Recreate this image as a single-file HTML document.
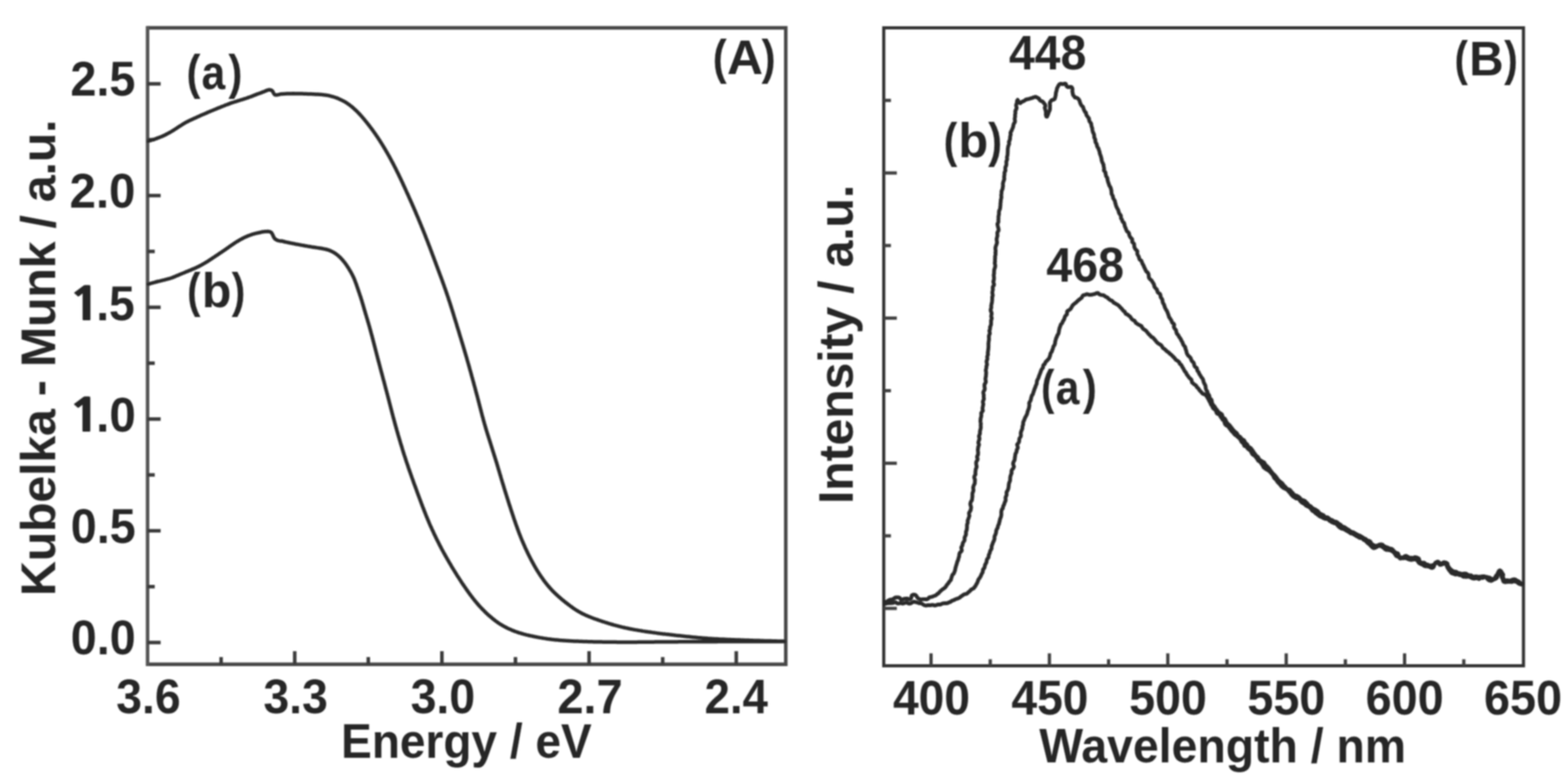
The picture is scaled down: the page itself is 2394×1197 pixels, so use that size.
<!DOCTYPE html>
<html><head><meta charset="utf-8"><title>Kubelka-Munk and PL spectra</title>
<style>
html,body{margin:0;padding:0;background:#fff;}
body{width:2394px;height:1197px;overflow:hidden;}
svg{display:block;}
</style></head>
<body>
<svg width="2394" height="1197" viewBox="0 0 2394 1197">
<defs><filter id="soft" x="0" y="0" width="2394" height="1197" filterUnits="userSpaceOnUse"><feGaussianBlur stdDeviation="1.1"/></filter></defs>
<rect x="0" y="0" width="2394" height="1197" fill="#ffffff"/>
<g filter="url(#soft)">
<g fill="none" stroke-linejoin="miter">
<path d="M225.3,42.5 H1199.7 V1014.2 H225.3" stroke="#474747" stroke-width="5.4"/><path d="M225.3,1016.9000000000001 V39.8" stroke="#555555" stroke-width="5.4"/><rect x="1349.3" y="42.5" width="976.7" height="974.0" stroke="#333333" stroke-width="4.8"/>
</g>
<g stroke-linecap="butt">
<line x1="337.6" y1="1014.2" x2="337.6" y2="1003.2" stroke-width="5.4" stroke="#3a3a3a"/>
<line x1="450.0" y1="1014.2" x2="450.0" y2="994.2" stroke-width="5.4" stroke="#3a3a3a"/>
<line x1="562.3" y1="1014.2" x2="562.3" y2="1003.2" stroke-width="5.4" stroke="#3a3a3a"/>
<line x1="674.7" y1="1014.2" x2="674.7" y2="994.2" stroke-width="5.4" stroke="#3a3a3a"/>
<line x1="787.0" y1="1014.2" x2="787.0" y2="1003.2" stroke-width="5.4" stroke="#3a3a3a"/>
<line x1="899.4" y1="1014.2" x2="899.4" y2="994.2" stroke-width="5.4" stroke="#3a3a3a"/>
<line x1="1011.8" y1="1014.2" x2="1011.8" y2="1003.2" stroke-width="5.4" stroke="#3a3a3a"/>
<line x1="1124.1" y1="1014.2" x2="1124.1" y2="994.2" stroke-width="5.4" stroke="#3a3a3a"/>
<line x1="225.3" y1="981.0" x2="245.3" y2="981.0" stroke-width="5.4" stroke="#3a3a3a"/>
<line x1="225.3" y1="895.7" x2="236.3" y2="895.7" stroke-width="5.4" stroke="#3a3a3a"/>
<line x1="225.3" y1="810.4" x2="245.3" y2="810.4" stroke-width="5.4" stroke="#3a3a3a"/>
<line x1="225.3" y1="725.1" x2="236.3" y2="725.1" stroke-width="5.4" stroke="#3a3a3a"/>
<line x1="225.3" y1="639.8" x2="245.3" y2="639.8" stroke-width="5.4" stroke="#3a3a3a"/>
<line x1="225.3" y1="554.5" x2="236.3" y2="554.5" stroke-width="5.4" stroke="#3a3a3a"/>
<line x1="225.3" y1="469.2" x2="245.3" y2="469.2" stroke-width="5.4" stroke="#3a3a3a"/>
<line x1="225.3" y1="383.9" x2="236.3" y2="383.9" stroke-width="5.4" stroke="#3a3a3a"/>
<line x1="225.3" y1="298.6" x2="245.3" y2="298.6" stroke-width="5.4" stroke="#3a3a3a"/>
<line x1="225.3" y1="213.3" x2="236.3" y2="213.3" stroke-width="5.4" stroke="#3a3a3a"/>
<line x1="225.3" y1="128.0" x2="245.3" y2="128.0" stroke-width="5.4" stroke="#3a3a3a"/>
<line x1="1421.5" y1="1016.5" x2="1421.5" y2="997.5" stroke-width="5.0" stroke="#404040"/>
<line x1="1511.9" y1="1016.5" x2="1511.9" y2="1006.5" stroke-width="5.0" stroke="#404040"/>
<line x1="1602.2" y1="1016.5" x2="1602.2" y2="997.5" stroke-width="5.0" stroke="#404040"/>
<line x1="1692.6" y1="1016.5" x2="1692.6" y2="1006.5" stroke-width="5.0" stroke="#404040"/>
<line x1="1783.0" y1="1016.5" x2="1783.0" y2="997.5" stroke-width="5.0" stroke="#404040"/>
<line x1="1873.4" y1="1016.5" x2="1873.4" y2="1006.5" stroke-width="5.0" stroke="#404040"/>
<line x1="1963.8" y1="1016.5" x2="1963.8" y2="997.5" stroke-width="5.0" stroke="#404040"/>
<line x1="2054.1" y1="1016.5" x2="2054.1" y2="1006.5" stroke-width="5.0" stroke="#404040"/>
<line x1="2144.5" y1="1016.5" x2="2144.5" y2="997.5" stroke-width="5.0" stroke="#404040"/>
<line x1="2234.9" y1="1016.5" x2="2234.9" y2="1006.5" stroke-width="5.0" stroke="#404040"/>
<line x1="1349.3" y1="153.3" x2="1360.3" y2="153.3" stroke-width="5.0" stroke="#404040"/>
<line x1="1349.3" y1="264.1" x2="1369.3" y2="264.1" stroke-width="5.0" stroke="#404040"/>
<line x1="1349.3" y1="374.9" x2="1360.3" y2="374.9" stroke-width="5.0" stroke="#404040"/>
<line x1="1349.3" y1="485.7" x2="1369.3" y2="485.7" stroke-width="5.0" stroke="#404040"/>
<line x1="1349.3" y1="596.5" x2="1360.3" y2="596.5" stroke-width="5.0" stroke="#404040"/>
<line x1="1349.3" y1="707.3" x2="1369.3" y2="707.3" stroke-width="5.0" stroke="#404040"/>
<line x1="1349.3" y1="818.1" x2="1360.3" y2="818.1" stroke-width="5.0" stroke="#404040"/>
<line x1="1349.3" y1="928.9" x2="1369.3" y2="928.9" stroke-width="5.0" stroke="#404040"/>
</g>
<g fill="none" stroke="#2a2a2a" stroke-width="5.5" stroke-linejoin="round" stroke-linecap="round">
<path d="M226.5,215.5 L228.4,214.9 L230.3,214.3 L232.2,213.7 L234.1,213.1 L236.0,212.5 L237.9,211.8 L239.8,211.1 L241.7,210.4 L243.5,209.7 L245.4,209.0 L247.2,208.2 L249.0,207.4 L250.9,206.6 L252.7,205.7 L254.4,204.8 L256.2,203.9 L258.0,202.9 L259.7,202.0 L261.4,201.0 L263.2,199.9 L264.9,198.9 L266.5,197.8 L268.2,196.7 L269.9,195.6 L271.5,194.5 L273.2,193.4 L274.9,192.3 L276.6,191.3 L278.3,190.2 L280.0,189.2 L281.7,188.2 L283.4,187.2 L285.2,186.2 L287.0,185.3 L288.7,184.4 L290.5,183.5 L292.3,182.7 L294.2,181.9 L296.0,181.0 L297.8,180.2 L299.6,179.4 L301.4,178.6 L303.3,177.8 L305.1,176.9 L306.9,176.1 L308.8,175.3 L310.6,174.5 L312.4,173.7 L314.2,172.9 L316.1,172.1 L317.9,171.3 L319.8,170.5 L321.6,169.7 L323.4,169.0 L325.3,168.2 L327.1,167.5 L329.0,166.7 L330.8,165.9 L332.7,165.2 L334.6,164.4 L336.4,163.7 L338.3,162.9 L340.1,162.2 L342.0,161.5 L343.8,160.7 L345.7,160.0 L347.6,159.3 L349.4,158.6 L351.3,157.9 L353.2,157.2 L355.1,156.6 L357.0,156.0 L358.9,155.4 L360.8,154.8 L362.7,154.2 L364.6,153.6 L366.5,153.0 L368.4,152.4 L370.4,151.8 L372.3,151.2 L374.2,150.6 L376.0,150.0 L377.9,149.3 L379.8,148.6 L381.7,148.0 L383.6,147.3 L385.4,146.6 L387.3,145.8 L389.2,145.1 L391.0,144.4 L392.9,143.7 L394.8,143.0 L396.7,142.3 L398.5,141.7 L400.4,140.9 L402.3,140.2 L404.1,139.4 L406.0,138.6 L407.8,137.9 L409.7,137.3 L411.7,137.1 L413.7,137.5 L415.4,138.4 L416.6,140.0 L417.5,141.8 L418.4,143.5 L419.9,144.8 L421.8,145.1 L423.8,144.8 L425.7,144.3 L427.7,143.8 L429.7,143.5 L431.8,143.4 L433.7,143.3 L435.7,143.2 L437.6,143.1 L439.6,143.0 L441.6,142.9 L443.6,142.9 L445.6,142.9 L447.6,142.8 L449.6,142.9 L451.6,142.9 L453.6,142.9 L455.6,143.0 L457.6,143.0 L459.6,143.1 L461.6,143.1 L463.6,143.2 L465.6,143.2 L467.6,143.3 L469.6,143.4 L471.6,143.4 L473.6,143.5 L475.6,143.6 L477.6,143.7 L479.6,143.8 L481.6,143.9 L483.6,144.0 L485.6,144.1 L487.6,144.2 L489.6,144.3 L491.6,144.5 L493.5,144.7 L495.5,144.9 L497.5,145.2 L499.5,145.5 L501.4,145.9 L503.4,146.3 L505.3,146.8 L507.2,147.3 L509.1,147.9 L511.0,148.5 L512.9,149.1 L514.8,149.8 L516.6,150.6 L518.4,151.4 L520.2,152.2 L522.0,153.1 L523.8,154.0 L525.5,154.9 L527.3,155.9 L529.0,157.0 L530.6,158.1 L532.3,159.2 L533.9,160.4 L535.4,161.6 L537.0,162.8 L538.5,164.1 L540.0,165.4 L541.5,166.8 L543.0,168.1 L544.4,169.5 L545.8,170.9 L547.2,172.3 L548.6,173.8 L550.0,175.2 L551.3,176.7 L552.6,178.2 L553.9,179.7 L555.2,181.3 L556.5,182.8 L557.8,184.4 L559.0,185.9 L560.3,187.5 L561.5,189.0 L562.7,190.6 L564.0,192.2 L565.2,193.8 L566.4,195.4 L567.6,197.0 L568.8,198.6 L569.9,200.2 L571.1,201.8 L572.3,203.5 L573.4,205.1 L574.5,206.8 L575.7,208.4 L576.8,210.1 L577.9,211.7 L579.0,213.4 L580.1,215.1 L581.1,216.8 L582.2,218.5 L583.3,220.2 L584.3,221.9 L585.3,223.6 L586.4,225.3 L587.4,227.0 L588.4,228.7 L589.4,230.5 L590.4,232.2 L591.4,233.9 L592.4,235.7 L593.4,237.4 L594.4,239.1 L595.3,240.9 L596.3,242.7 L597.3,244.4 L598.2,246.2 L599.1,247.9 L600.1,249.7 L601.0,251.5 L601.9,253.3 L602.8,255.0 L603.7,256.8 L604.6,258.6 L605.5,260.4 L606.4,262.2 L607.3,264.0 L608.2,265.8 L609.0,267.6 L609.9,269.4 L610.8,271.2 L611.6,273.0 L612.5,274.8 L613.3,276.6 L614.2,278.4 L615.0,280.2 L615.8,282.1 L616.7,283.9 L617.5,285.7 L618.3,287.5 L619.2,289.3 L620.0,291.2 L620.8,293.0 L621.6,294.8 L622.5,296.6 L623.3,298.4 L624.1,300.3 L624.9,302.1 L625.7,303.9 L626.6,305.8 L627.4,307.6 L628.2,309.4 L629.0,311.2 L629.8,313.1 L630.6,314.9 L631.4,316.7 L632.2,318.6 L633.0,320.4 L633.8,322.2 L634.6,324.1 L635.3,325.9 L636.1,327.8 L636.9,329.6 L637.7,331.4 L638.5,333.3 L639.2,335.1 L640.0,337.0 L640.8,338.8 L641.5,340.7 L642.3,342.5 L643.1,344.4 L643.8,346.2 L644.6,348.1 L645.3,349.9 L646.1,351.8 L646.8,353.6 L647.6,355.5 L648.3,357.3 L649.1,359.2 L649.8,361.1 L650.5,362.9 L651.2,364.8 L652.0,366.7 L652.7,368.5 L653.4,370.4 L654.1,372.3 L654.8,374.1 L655.6,376.0 L656.3,377.9 L657.0,379.7 L657.7,381.6 L658.4,383.5 L659.1,385.3 L659.8,387.2 L660.5,389.1 L661.2,391.0 L661.9,392.8 L662.6,394.7 L663.3,396.6 L664.0,398.4 L664.7,400.3 L665.4,402.2 L666.1,404.1 L666.8,405.9 L667.5,407.8 L668.2,409.7 L668.9,411.6 L669.6,413.4 L670.3,415.3 L671.0,417.2 L671.7,419.1 L672.4,420.9 L673.1,422.8 L673.8,424.7 L674.5,426.6 L675.2,428.4 L675.8,430.3 L676.5,432.2 L677.2,434.1 L677.9,436.0 L678.5,437.9 L679.2,439.7 L679.9,441.6 L680.5,443.5 L681.2,445.4 L681.8,447.3 L682.5,449.2 L683.1,451.1 L683.8,453.0 L684.4,454.9 L685.0,456.8 L685.6,458.7 L686.3,460.6 L686.9,462.5 L687.5,464.4 L688.1,466.3 L688.7,468.2 L689.3,470.1 L689.9,472.0 L690.5,473.9 L691.1,475.8 L691.7,477.7 L692.3,479.7 L692.9,481.6 L693.4,483.5 L694.0,485.4 L694.6,487.3 L695.2,489.2 L695.8,491.1 L696.4,493.0 L697.0,494.9 L697.5,496.9 L698.1,498.8 L698.7,500.7 L699.3,502.6 L699.9,504.5 L700.5,506.4 L701.1,508.3 L701.6,510.3 L702.2,512.2 L702.8,514.1 L703.4,516.0 L704.0,517.9 L704.5,519.8 L705.1,521.7 L705.7,523.6 L706.3,525.6 L706.9,527.5 L707.4,529.4 L708.0,531.3 L708.6,533.2 L709.1,535.1 L709.7,537.1 L710.3,539.0 L710.8,540.9 L711.4,542.8 L712.0,544.7 L712.5,546.7 L713.1,548.6 L713.6,550.5 L714.2,552.4 L714.7,554.3 L715.3,556.3 L715.8,558.2 L716.4,560.1 L716.9,562.0 L717.4,564.0 L718.0,565.9 L718.5,567.8 L719.1,569.8 L719.6,571.7 L720.1,573.6 L720.6,575.5 L721.2,577.5 L721.7,579.4 L722.2,581.3 L722.8,583.3 L723.3,585.2 L723.8,587.1 L724.3,589.0 L724.9,591.0 L725.4,592.9 L725.9,594.8 L726.4,596.8 L726.9,598.7 L727.4,600.6 L728.0,602.6 L728.5,604.5 L729.0,606.4 L729.5,608.4 L730.0,610.3 L730.5,612.2 L731.0,614.2 L731.5,616.1 L732.0,618.0 L732.5,620.0 L733.0,621.9 L733.5,623.9 L734.0,625.8 L734.5,627.7 L735.0,629.7 L735.5,631.6 L736.0,633.5 L736.5,635.5 L737.1,637.4 L737.6,639.3 L738.1,641.3 L738.6,643.2 L739.2,645.1 L739.7,647.0 L740.3,649.0 L740.8,650.9 L741.4,652.8 L741.9,654.7 L742.5,656.6 L743.1,658.5 L743.7,660.5 L744.3,662.4 L744.9,664.3 L745.5,666.2 L746.1,668.1 L746.7,670.0 L747.3,671.9 L747.9,673.8 L748.5,675.7 L749.1,677.6 L749.7,679.5 L750.3,681.4 L750.9,683.3 L751.5,685.2 L752.1,687.2 L752.7,689.1 L753.3,691.0 L753.9,692.9 L754.5,694.8 L755.1,696.7 L755.7,698.6 L756.3,700.5 L756.9,702.4 L757.5,704.3 L758.1,706.2 L758.7,708.2 L759.2,710.1 L759.8,712.0 L760.4,713.9 L760.9,715.8 L761.5,717.7 L762.1,719.7 L762.7,721.6 L763.2,723.5 L763.8,725.4 L764.4,727.3 L764.9,729.2 L765.5,731.2 L766.1,733.1 L766.6,735.0 L767.2,736.9 L767.8,738.8 L768.4,740.7 L769.0,742.7 L769.5,744.6 L770.1,746.5 L770.7,748.4 L771.3,750.3 L771.9,752.2 L772.5,754.1 L773.1,756.0 L773.7,757.9 L774.3,759.8 L774.9,761.8 L775.5,763.7 L776.1,765.6 L776.7,767.5 L777.3,769.4 L777.9,771.3 L778.6,773.2 L779.2,775.1 L779.8,777.0 L780.4,778.9 L781.0,780.8 L781.7,782.7 L782.3,784.6 L782.9,786.5 L783.6,788.4 L784.2,790.3 L784.8,792.2 L785.5,794.1 L786.1,796.0 L786.8,797.8 L787.4,799.7 L788.1,801.6 L788.8,803.5 L789.5,805.4 L790.1,807.3 L790.8,809.1 L791.5,811.0 L792.2,812.9 L792.9,814.8 L793.7,816.6 L794.4,818.5 L795.1,820.3 L795.9,822.2 L796.6,824.0 L797.4,825.9 L798.2,827.7 L799.0,829.6 L799.8,831.4 L800.6,833.2 L801.4,835.1 L802.2,836.9 L803.1,838.7 L803.9,840.5 L804.8,842.3 L805.6,844.1 L806.5,845.9 L807.4,847.7 L808.3,849.5 L809.2,851.3 L810.1,853.0 L811.0,854.8 L812.0,856.6 L812.9,858.4 L813.9,860.1 L814.8,861.9 L815.8,863.6 L816.8,865.3 L817.8,867.1 L818.8,868.8 L819.8,870.5 L820.9,872.2 L822.0,873.9 L823.0,875.6 L824.1,877.3 L825.2,878.9 L826.4,880.6 L827.5,882.2 L828.7,883.8 L829.8,885.5 L831.0,887.1 L832.2,888.7 L833.4,890.2 L834.7,891.8 L835.9,893.4 L837.2,894.9 L838.5,896.4 L839.8,897.9 L841.2,899.4 L842.5,900.9 L843.9,902.3 L845.3,903.7 L846.7,905.1 L848.2,906.5 L849.6,907.9 L851.1,909.2 L852.6,910.6 L854.1,911.9 L855.6,913.2 L857.1,914.5 L858.7,915.8 L860.2,917.0 L861.8,918.3 L863.3,919.5 L864.9,920.8 L866.5,922.0 L868.1,923.2 L869.6,924.4 L871.2,925.6 L872.9,926.8 L874.5,928.0 L876.1,929.1 L877.8,930.2 L879.5,931.3 L881.2,932.3 L882.9,933.4 L884.6,934.4 L886.4,935.3 L888.1,936.3 L889.9,937.2 L891.7,938.0 L893.5,938.9 L895.3,939.7 L897.2,940.5 L899.0,941.3 L900.9,942.0 L902.7,942.7 L904.6,943.5 L906.4,944.2 L908.3,944.9 L910.2,945.5 L912.1,946.2 L914.0,946.9 L915.9,947.5 L917.8,948.2 L919.7,948.8 L921.6,949.4 L923.5,950.0 L925.4,950.6 L927.3,951.2 L929.2,951.8 L931.1,952.4 L933.0,953.0 L934.9,953.5 L936.9,954.1 L938.8,954.6 L940.7,955.1 L942.7,955.6 L944.6,956.1 L946.5,956.6 L948.5,957.1 L950.4,957.6 L952.4,958.0 L954.3,958.5 L956.3,958.9 L958.2,959.3 L960.2,959.7 L962.1,960.1 L964.1,960.5 L966.1,960.9 L968.0,961.2 L970.0,961.6 L972.0,961.9 L973.9,962.3 L975.9,962.6 L977.9,962.9 L979.9,963.2 L981.8,963.6 L983.8,963.9 L985.8,964.2 L987.8,964.5 L989.7,964.8 L991.7,965.0 L993.7,965.3 L995.7,965.6 L997.7,965.9 L999.6,966.1 L1001.6,966.4 L1003.6,966.7 L1005.6,966.9 L1007.6,967.2 L1009.6,967.4 L1011.5,967.7 L1013.5,967.9 L1015.5,968.1 L1017.5,968.4 L1019.5,968.6 L1021.5,968.8 L1023.5,969.1 L1025.5,969.3 L1027.4,969.5 L1029.4,969.7 L1031.4,970.0 L1033.4,970.2 L1035.4,970.4 L1037.4,970.6 L1039.4,970.8 L1041.4,971.1 L1043.3,971.3 L1045.3,971.5 L1047.3,971.7 L1049.3,971.9 L1051.3,972.1 L1053.3,972.3 L1055.3,972.5 L1057.3,972.7 L1059.3,972.9 L1061.2,973.1 L1063.2,973.3 L1065.2,973.5 L1067.2,973.7 L1069.2,973.8 L1071.2,974.0 L1073.2,974.2 L1075.2,974.3 L1077.2,974.5 L1079.2,974.6 L1081.2,974.8 L1083.2,974.9 L1085.2,975.0 L1087.2,975.2 L1089.2,975.3 L1091.2,975.4 L1093.2,975.5 L1095.1,975.6 L1097.1,975.7 L1099.1,975.9 L1101.1,976.0 L1103.1,976.0 L1105.1,976.1 L1107.1,976.2 L1109.1,976.3 L1111.1,976.4 L1113.1,976.5 L1115.1,976.6 L1117.1,976.7 L1119.1,976.7 L1121.1,976.8 L1123.1,976.9 L1125.1,977.0 L1127.1,977.0 L1129.1,977.1 L1131.1,977.2 L1133.1,977.3 L1135.1,977.3 L1137.1,977.4 L1139.1,977.5 L1141.1,977.6 L1143.1,977.6 L1145.1,977.7 L1147.1,977.8 L1149.1,977.8 L1151.1,977.9 L1153.1,977.9 L1155.1,978.0 L1157.1,978.1 L1159.1,978.1 L1161.1,978.2 L1163.1,978.2 L1165.1,978.3 L1167.1,978.4 L1169.1,978.4 L1171.1,978.5 L1173.1,978.5 L1175.1,978.6 L1177.1,978.6 L1179.1,978.7 L1181.1,978.7 L1183.1,978.8 L1185.1,978.8 L1187.1,978.9 L1189.1,979.0 L1191.1,979.0 L1193.0,979.1 L1195.0,979.1 L1196.9,979.2 L1197.5,979.2"/><path d="M226.5,433.8 L228.4,433.3 L230.3,432.7 L232.3,432.2 L234.2,431.6 L236.1,431.1 L238.1,430.5 L240.0,430.0 L241.9,429.5 L243.9,429.1 L245.8,428.6 L247.7,428.1 L249.7,427.6 L251.6,427.2 L253.6,426.7 L255.5,426.2 L257.4,425.6 L259.3,425.1 L261.2,424.5 L263.1,423.8 L264.9,423.1 L266.8,422.4 L268.6,421.6 L270.4,420.8 L272.3,420.1 L274.1,419.3 L275.9,418.5 L277.8,417.7 L279.6,417.0 L281.5,416.2 L283.3,415.4 L285.2,414.7 L287.0,413.9 L288.9,413.2 L290.7,412.4 L292.6,411.6 L294.4,410.8 L296.3,410.1 L298.1,409.2 L299.9,408.4 L301.7,407.6 L303.5,406.7 L305.3,405.8 L307.1,404.9 L308.8,403.9 L310.5,402.9 L312.3,401.9 L314.0,400.9 L315.7,399.8 L317.4,398.8 L319.0,397.7 L320.7,396.6 L322.4,395.5 L324.0,394.4 L325.7,393.3 L327.4,392.2 L329.0,391.1 L330.7,390.0 L332.4,388.9 L334.0,387.8 L335.7,386.6 L337.4,385.5 L339.0,384.4 L340.7,383.3 L342.3,382.2 L344.0,381.0 L345.6,379.9 L347.2,378.7 L348.9,377.6 L350.5,376.4 L352.2,375.3 L353.8,374.1 L355.5,373.0 L357.1,371.9 L358.8,370.8 L360.5,369.7 L362.2,368.7 L363.9,367.6 L365.6,366.6 L367.3,365.6 L369.1,364.7 L370.8,363.8 L372.6,362.9 L374.4,362.0 L376.2,361.2 L378.1,360.4 L379.9,359.7 L381.8,359.0 L383.7,358.3 L385.6,357.7 L387.5,357.2 L389.4,356.6 L391.3,356.1 L393.3,355.7 L395.2,355.3 L397.2,355.0 L399.1,354.3 L401.1,354.0 L403.1,353.8 L405.1,353.6 L407.1,353.4 L409.1,353.3 L411.0,353.6 L412.9,354.2 L414.5,355.3 L415.6,357.0 L416.5,358.8 L417.2,360.6 L418.1,362.4 L419.2,364.1 L420.7,365.4 L422.4,366.4 L424.3,367.1 L426.2,367.6 L428.2,368.0 L430.4,368.0 L432.2,368.5 L434.1,369.0 L436.1,369.5 L438.0,369.9 L440.0,370.3 L441.9,370.7 L443.9,371.1 L445.8,371.5 L447.8,371.9 L449.8,372.3 L451.7,372.7 L453.7,373.0 L455.7,373.4 L457.6,373.8 L459.6,374.1 L461.6,374.5 L463.5,374.8 L465.5,375.2 L467.5,375.5 L469.4,375.9 L471.4,376.2 L473.4,376.5 L475.4,376.9 L477.3,377.2 L479.3,377.5 L481.3,377.8 L483.3,378.1 L485.2,378.4 L487.2,378.7 L489.2,379.0 L491.2,379.3 L493.1,379.7 L495.1,380.1 L497.0,380.5 L498.9,381.0 L500.8,381.5 L502.7,382.2 L504.5,382.9 L506.3,383.7 L508.0,384.6 L509.7,385.5 L511.4,386.6 L513.0,387.7 L514.6,388.9 L516.1,390.1 L517.6,391.5 L519.1,392.8 L520.5,394.2 L521.8,395.7 L523.1,397.1 L524.4,398.7 L525.7,400.2 L526.9,401.8 L528.1,403.4 L529.2,405.0 L530.3,406.7 L531.4,408.4 L532.5,410.0 L533.5,411.8 L534.5,413.5 L535.5,415.2 L536.5,416.9 L537.4,418.7 L538.4,420.5 L539.2,422.3 L540.1,424.1 L540.9,425.9 L541.6,427.7 L542.3,429.6 L543.0,431.5 L543.7,433.3 L544.4,435.2 L545.0,437.1 L545.7,439.0 L546.3,440.9 L546.9,442.8 L547.6,444.7 L548.3,446.6 L548.9,448.5 L549.5,450.4 L550.2,452.2 L550.8,454.1 L551.4,456.1 L552.0,458.0 L552.6,459.9 L553.1,461.8 L553.7,463.7 L554.3,465.6 L554.8,467.6 L555.4,469.5 L555.9,471.4 L556.5,473.3 L557.1,475.2 L557.6,477.1 L558.2,479.1 L558.8,481.0 L559.4,482.9 L559.9,484.8 L560.5,486.7 L561.1,488.6 L561.6,490.6 L562.2,492.5 L562.8,494.4 L563.3,496.3 L563.9,498.2 L564.4,500.2 L564.9,502.1 L565.5,504.0 L566.0,506.0 L566.5,507.9 L567.0,509.8 L567.6,511.7 L568.1,513.7 L568.6,515.6 L569.1,517.5 L569.6,519.5 L570.1,521.4 L570.6,523.4 L571.1,525.3 L571.6,527.2 L572.1,529.2 L572.6,531.1 L573.1,533.0 L573.6,535.0 L574.1,536.9 L574.6,538.8 L575.1,540.8 L575.6,542.7 L576.1,544.7 L576.6,546.6 L577.1,548.5 L577.6,550.5 L578.1,552.4 L578.7,554.3 L579.2,556.3 L579.7,558.2 L580.2,560.1 L580.7,562.1 L581.2,564.0 L581.7,565.9 L582.2,567.9 L582.8,569.8 L583.3,571.7 L583.8,573.7 L584.3,575.6 L584.8,577.5 L585.3,579.5 L585.9,581.4 L586.4,583.3 L586.9,585.2 L587.4,587.2 L587.9,589.1 L588.4,591.0 L588.9,593.0 L589.4,594.9 L590.0,596.8 L590.5,598.8 L591.0,600.7 L591.5,602.7 L592.0,604.6 L592.5,606.5 L593.0,608.5 L593.5,610.4 L594.0,612.3 L594.5,614.3 L595.0,616.2 L595.5,618.1 L596.0,620.1 L596.5,622.0 L597.0,624.0 L597.5,625.9 L598.0,627.8 L598.5,629.8 L599.0,631.7 L599.5,633.6 L600.0,635.6 L600.5,637.5 L601.0,639.4 L601.6,641.4 L602.1,643.3 L602.6,645.2 L603.1,647.1 L603.7,649.1 L604.2,651.0 L604.7,652.9 L605.3,654.9 L605.8,656.8 L606.4,658.7 L606.9,660.6 L607.5,662.5 L608.0,664.5 L608.6,666.4 L609.2,668.3 L609.7,670.2 L610.3,672.1 L610.9,674.1 L611.4,676.0 L612.0,677.9 L612.6,679.8 L613.2,681.7 L613.8,683.6 L614.3,685.5 L614.9,687.5 L615.5,689.4 L616.1,691.3 L616.7,693.2 L617.3,695.1 L618.0,697.0 L618.6,698.9 L619.2,700.8 L619.8,702.7 L620.4,704.6 L621.1,706.5 L621.7,708.4 L622.4,710.3 L623.0,712.2 L623.6,714.1 L624.3,716.0 L624.9,717.8 L625.6,719.7 L626.3,721.6 L626.9,723.5 L627.6,725.4 L628.3,727.3 L628.9,729.2 L629.6,731.0 L630.3,732.9 L631.0,734.8 L631.6,736.7 L632.3,738.6 L633.0,740.5 L633.7,742.3 L634.4,744.2 L635.1,746.1 L635.8,748.0 L636.4,749.8 L637.1,751.7 L637.8,753.6 L638.5,755.5 L639.2,757.3 L639.9,759.2 L640.6,761.1 L641.3,763.0 L642.0,764.8 L642.7,766.7 L643.4,768.6 L644.1,770.5 L644.8,772.3 L645.5,774.2 L646.3,776.1 L647.0,777.9 L647.7,779.8 L648.4,781.7 L649.2,783.5 L649.9,785.4 L650.6,787.2 L651.4,789.1 L652.2,790.9 L652.9,792.8 L653.7,794.6 L654.5,796.5 L655.2,798.3 L656.0,800.2 L656.8,802.0 L657.6,803.8 L658.5,805.6 L659.3,807.5 L660.1,809.3 L661.0,811.1 L661.8,812.9 L662.6,814.7 L663.5,816.5 L664.4,818.3 L665.2,820.1 L666.1,821.9 L667.0,823.7 L667.9,825.5 L668.8,827.3 L669.7,829.1 L670.6,830.9 L671.5,832.6 L672.4,834.4 L673.4,836.2 L674.3,838.0 L675.2,839.7 L676.2,841.5 L677.1,843.2 L678.1,845.0 L679.1,846.7 L680.0,848.5 L681.0,850.2 L682.0,852.0 L683.0,853.7 L684.0,855.4 L685.0,857.2 L686.0,858.9 L687.0,860.6 L688.1,862.3 L689.1,864.1 L690.1,865.8 L691.1,867.5 L692.2,869.2 L693.2,870.9 L694.3,872.6 L695.3,874.3 L696.4,876.0 L697.4,877.7 L698.5,879.4 L699.6,881.1 L700.7,882.8 L701.7,884.4 L702.8,886.1 L703.9,887.8 L705.0,889.5 L706.1,891.1 L707.3,892.8 L708.4,894.4 L709.5,896.1 L710.7,897.7 L711.8,899.4 L712.9,901.0 L714.1,902.6 L715.3,904.3 L716.4,905.9 L717.6,907.5 L718.8,909.1 L720.0,910.7 L721.2,912.3 L722.5,913.9 L723.7,915.4 L724.9,917.0 L726.2,918.5 L727.5,920.1 L728.8,921.6 L730.1,923.1 L731.4,924.6 L732.8,926.1 L734.1,927.5 L735.5,929.0 L736.9,930.5 L738.3,931.9 L739.7,933.3 L741.1,934.7 L742.5,936.1 L744.0,937.4 L745.5,938.8 L747.0,940.1 L748.5,941.4 L750.0,942.7 L751.5,944.0 L753.1,945.2 L754.7,946.5 L756.3,947.7 L757.9,948.9 L759.5,950.0 L761.1,951.2 L762.8,952.3 L764.5,953.3 L766.2,954.4 L767.9,955.4 L769.6,956.4 L771.4,957.3 L773.2,958.2 L774.9,959.1 L776.7,960.0 L778.6,960.8 L780.4,961.6 L782.2,962.4 L784.1,963.1 L786.0,963.8 L787.8,964.5 L789.7,965.1 L791.6,965.8 L793.5,966.4 L795.4,967.0 L797.4,967.5 L799.3,968.1 L801.2,968.6 L803.1,969.1 L805.1,969.6 L807.0,970.0 L809.0,970.5 L810.9,970.9 L812.9,971.3 L814.8,971.7 L816.8,972.1 L818.8,972.5 L820.7,972.9 L822.7,973.2 L824.7,973.6 L826.6,973.9 L828.6,974.3 L830.6,974.6 L832.6,974.9 L834.5,975.2 L836.5,975.5 L838.5,975.7 L840.5,976.0 L842.5,976.3 L844.4,976.5 L846.4,976.7 L848.4,976.9 L850.4,977.1 L852.4,977.3 L854.4,977.5 L856.4,977.7 L858.4,977.8 L860.4,978.0 L862.4,978.1 L864.4,978.2 L866.4,978.3 L868.4,978.5 L870.3,978.6 L872.3,978.7 L874.3,978.8 L876.3,978.9 L878.3,978.9 L880.3,979.0 L882.3,979.1 L884.3,979.2 L886.3,979.3 L888.3,979.3 L890.3,979.4 L892.3,979.5 L894.3,979.5 L896.3,979.6 L898.3,979.7 L900.3,979.7 L902.3,979.8 L904.3,979.8 L906.3,979.9 L908.3,979.9 L910.3,980.0 L912.3,980.0 L914.3,980.1 L916.3,980.1 L918.3,980.1 L920.3,980.2 L922.3,980.2 L924.3,980.2 L926.3,980.2 L928.3,980.3 L930.3,980.3 L932.3,980.3 L934.3,980.3 L936.3,980.3 L938.3,980.3 L940.3,980.3 L942.3,980.4 L944.3,980.4 L946.3,980.4 L948.3,980.4 L950.3,980.4 L952.3,980.4 L954.3,980.4 L956.3,980.4 L958.3,980.4 L960.3,980.4 L962.3,980.4 L964.3,980.4 L966.3,980.4 L968.3,980.4 L970.3,980.4 L972.3,980.4 L974.3,980.3 L976.3,980.3 L978.3,980.3 L980.3,980.3 L982.3,980.3 L984.3,980.3 L986.3,980.3 L988.3,980.2 L990.3,980.2 L992.3,980.2 L994.3,980.2 L996.3,980.2 L998.3,980.2 L1000.3,980.1 L1002.3,980.1 L1004.3,980.1 L1006.3,980.1 L1008.3,980.1 L1010.3,980.0 L1012.3,980.0 L1014.3,980.0 L1016.3,980.0 L1018.3,980.0 L1020.3,980.0 L1022.3,979.9 L1024.3,979.9 L1026.3,979.9 L1028.3,979.9 L1030.3,979.9 L1032.3,979.9 L1034.3,979.9 L1036.3,979.8 L1038.3,979.8 L1040.3,979.8 L1042.3,979.8 L1044.3,979.8 L1046.3,979.8 L1048.3,979.8 L1050.3,979.8 L1052.3,979.8 L1054.3,979.8 L1056.3,979.8 L1058.3,979.7 L1060.3,979.7 L1062.3,979.7 L1064.3,979.7 L1066.3,979.7 L1068.3,979.7 L1070.3,979.7 L1072.3,979.7 L1074.3,979.7 L1076.3,979.7 L1078.3,979.7 L1080.3,979.7 L1082.3,979.7 L1084.3,979.7 L1086.3,979.7 L1088.3,979.7 L1090.3,979.7 L1092.3,979.7 L1094.3,979.7 L1096.3,979.6 L1098.3,979.6 L1100.3,979.6 L1102.3,979.6 L1104.3,979.6 L1106.3,979.6 L1108.3,979.6 L1110.3,979.6 L1112.3,979.6 L1114.3,979.6 L1116.3,979.6 L1118.3,979.6 L1120.3,979.6 L1122.3,979.6 L1124.3,979.6 L1126.3,979.6 L1128.3,979.6 L1130.3,979.6 L1132.3,979.6 L1134.3,979.6 L1136.3,979.6 L1138.3,979.6 L1140.3,979.6 L1142.3,979.6 L1144.3,979.6 L1146.3,979.6 L1148.3,979.6 L1150.3,979.6 L1152.3,979.6 L1154.3,979.6 L1156.3,979.6 L1158.3,979.6 L1160.3,979.6 L1162.3,979.6 L1164.3,979.6 L1166.3,979.6 L1168.3,979.5 L1170.3,979.5 L1172.3,979.5 L1174.3,979.5 L1176.3,979.5 L1178.3,979.5 L1180.3,979.5 L1182.3,979.5 L1184.3,979.5 L1186.3,979.5 L1188.3,979.5 L1190.3,979.5 L1192.3,979.5 L1194.2,979.5 L1196.2,979.5 L1197.5,979.5"/><path stroke-width="5.8" d="M1350.9,918.8 L1353.1,919.1 L1354.9,918.1 L1356.5,916.6 L1358.4,915.9 L1360.3,915.4 L1362.4,915.3 L1364.1,914.2 L1365.7,913.1 L1367.5,912.1 L1369.4,912.1 L1371.3,912.1 L1373.6,912.8 L1374.7,914.2 L1375.7,915.6 L1377.5,915.5 L1379.3,914.8 L1381.3,914.1 L1383.4,913.9 L1385.4,914.0 L1387.5,914.9 L1389.9,914.8 L1391.3,913.0 L1391.6,910.7 L1392.4,908.7 L1394.5,907.9 L1396.1,908.0 L1397.6,908.4 L1399.1,909.7 L1400.0,911.5 L1401.4,913.1 L1403.2,914.3 L1405.1,915.2 L1407.2,915.1 L1409.3,914.8 L1411.3,914.9 L1413.3,915.0 L1415.3,915.0 L1417.1,914.0 L1418.5,912.3 L1420.2,911.7 L1422.3,911.3 L1424.2,910.7 L1426.1,909.9 L1428.0,909.2 L1429.7,908.2 L1431.2,906.7 L1433.0,905.8 L1434.2,904.1 L1435.7,902.8 L1437.1,901.4 L1438.6,900.1 L1440.3,899.0 L1442.0,897.9 L1443.4,896.5 L1444.6,894.9 L1445.5,893.1 L1446.8,891.7 L1448.2,890.3 L1449.0,888.5 L1450.5,887.0 L1451.8,885.4 L1452.2,883.4 L1452.9,881.5 L1453.4,879.5 L1454.2,877.7 L1455.8,876.2 L1456.8,874.5 L1457.5,872.6 L1458.2,870.7 L1458.5,868.7 L1458.9,866.7 L1459.5,864.8 L1460.0,862.9 L1460.7,861.0 L1461.2,859.1 L1461.7,857.1 L1462.8,855.4 L1463.1,853.4 L1463.7,851.5 L1464.4,849.6 L1464.5,847.5 L1464.8,845.5 L1465.5,843.7 L1467.4,842.2 L1468.5,840.4 L1468.0,838.2 L1467.6,835.9 L1468.5,834.1 L1469.6,832.4 L1469.7,830.3 L1470.4,828.5 L1471.6,826.7 L1472.7,824.9 L1472.7,822.8 L1472.7,820.8 L1473.5,818.9 L1474.6,817.1 L1474.9,815.1 L1474.7,813.0 L1475.1,811.1 L1476.0,809.2 L1476.2,807.2 L1476.4,805.2 L1476.4,803.2 L1476.4,801.2 L1477.1,799.2 L1477.7,797.3 L1477.3,795.2 L1478.0,793.3 L1478.8,791.4 L1479.4,789.5 L1480.1,787.6 L1479.7,785.5 L1479.4,783.4 L1480.4,781.5 L1481.7,779.7 L1482.2,777.8 L1482.6,775.8 L1482.6,773.8 L1481.8,771.6 L1481.4,769.5 L1481.8,767.6 L1482.5,765.7 L1483.9,763.9 L1484.2,761.9 L1484.4,759.9 L1484.7,757.9 L1484.6,755.9 L1484.6,753.9 L1485.1,751.9 L1486.0,750.0 L1486.3,748.1 L1485.9,746.0 L1485.8,743.9 L1486.5,742.0 L1487.2,740.1 L1488.3,738.2 L1488.4,736.2 L1488.5,734.2 L1488.6,732.2 L1487.6,730.0 L1487.4,728.0 L1488.3,726.1 L1489.4,724.2 L1489.2,722.2 L1489.3,720.2 L1489.5,718.2 L1489.8,716.2 L1490.7,714.3 L1491.2,712.4 L1490.7,710.3 L1490.4,708.2 L1490.3,706.2 L1491.0,704.3 L1492.4,702.4 L1492.7,700.5 L1491.7,698.3 L1492.0,696.4 L1493.2,694.5 L1493.3,692.5 L1493.4,690.5 L1493.1,688.4 L1492.9,686.4 L1493.4,684.4 L1493.4,682.4 L1494.4,680.5 L1494.8,678.5 L1493.7,676.4 L1493.9,674.4 L1494.6,672.5 L1495.4,670.6 L1495.4,668.6 L1494.6,666.5 L1495.1,664.5 L1496.1,662.6 L1496.2,660.6 L1496.2,658.6 L1496.6,656.6 L1497.2,654.7 L1497.5,652.7 L1497.4,650.7 L1497.3,648.6 L1497.6,646.7 L1497.1,644.6 L1496.9,642.6 L1497.1,640.6 L1497.3,638.6 L1497.9,636.6 L1498.3,634.7 L1498.2,632.7 L1498.1,630.6 L1499.5,628.8 L1500.7,626.9 L1500.1,624.8 L1500.1,622.8 L1500.6,620.8 L1500.9,618.9 L1501.4,616.9 L1500.7,614.8 L1500.6,612.8 L1501.6,610.9 L1502.3,608.9 L1501.9,606.9 L1501.9,604.9 L1502.0,602.9 L1501.4,600.8 L1501.3,598.8 L1502.2,596.9 L1503.4,595.0 L1503.6,593.0 L1503.2,591.0 L1503.0,588.9 L1503.1,586.9 L1504.4,585.0 L1505.2,583.1 L1505.0,581.1 L1504.5,579.0 L1504.7,577.0 L1505.2,575.1 L1505.4,573.1 L1505.5,571.1 L1505.7,569.1 L1505.4,567.1 L1505.0,565.0 L1505.6,563.1 L1506.0,561.1 L1506.0,559.1 L1506.9,557.2 L1506.8,555.1 L1506.3,553.1 L1506.3,551.1 L1507.3,549.2 L1507.6,547.2 L1507.2,545.1 L1507.7,543.2 L1508.5,541.2 L1508.1,539.2 L1508.4,537.2 L1508.6,535.2 L1508.9,533.2 L1509.1,531.2 L1509.1,529.2 L1509.3,527.2 L1509.1,525.2 L1509.3,523.2 L1509.5,521.2 L1509.9,519.3 L1510.0,517.3 L1509.9,515.3 L1509.8,513.2 L1510.3,511.3 L1511.3,509.4 L1511.1,507.3 L1510.5,505.2 L1511.3,503.3 L1511.7,501.4 L1511.5,499.4 L1512.5,497.4 L1513.1,495.5 L1513.1,493.5 L1513.2,491.5 L1513.0,489.5 L1513.9,487.5 L1514.2,485.5 L1513.3,483.5 L1513.5,481.5 L1514.0,479.5 L1514.0,477.5 L1512.9,475.4 L1512.4,473.4 L1513.0,471.4 L1513.6,469.5 L1513.3,467.4 L1513.6,465.5 L1514.0,463.5 L1514.5,461.5 L1514.7,459.5 L1514.8,457.5 L1515.0,455.5 L1514.8,453.5 L1515.7,451.6 L1515.6,449.5 L1515.0,447.5 L1515.2,445.5 L1515.6,443.5 L1515.9,441.5 L1515.6,439.5 L1515.9,437.5 L1517.5,435.6 L1517.7,433.7 L1516.8,431.6 L1516.6,429.6 L1517.4,427.6 L1517.6,425.6 L1517.6,423.6 L1517.4,421.6 L1517.2,419.6 L1517.8,417.6 L1517.7,415.6 L1517.8,413.6 L1518.0,411.6 L1518.7,409.7 L1519.3,407.7 L1519.6,405.7 L1519.2,403.7 L1518.7,401.6 L1519.2,399.7 L1519.1,397.7 L1519.1,395.7 L1519.4,393.7 L1519.2,391.7 L1519.7,389.7 L1520.1,387.7 L1519.7,385.7 L1520.2,383.7 L1520.0,381.7 L1519.7,379.6 L1519.9,377.7 L1520.5,375.7 L1521.2,373.8 L1522.0,371.8 L1522.3,369.8 L1521.9,367.8 L1521.6,365.8 L1521.8,363.8 L1522.4,361.8 L1522.9,359.9 L1522.8,357.8 L1522.6,355.8 L1523.3,353.9 L1524.6,352.0 L1524.7,350.0 L1524.1,347.9 L1523.6,345.9 L1523.0,343.8 L1522.9,341.8 L1524.0,339.9 L1524.5,337.9 L1524.2,335.9 L1524.5,333.9 L1524.4,331.9 L1524.5,329.9 L1525.1,327.9 L1525.2,325.9 L1525.2,323.9 L1525.4,321.9 L1526.4,320.0 L1527.0,318.1 L1527.1,316.1 L1527.4,314.1 L1527.5,312.1 L1527.5,310.1 L1527.9,308.1 L1527.9,306.1 L1528.3,304.1 L1528.8,302.2 L1528.9,300.2 L1528.6,298.1 L1528.9,296.1 L1529.1,294.1 L1529.1,292.1 L1529.9,290.2 L1530.8,288.3 L1530.9,286.3 L1531.4,284.4 L1531.3,282.3 L1531.2,280.3 L1531.7,278.3 L1532.2,276.4 L1533.1,274.5 L1533.4,272.5 L1533.0,270.5 L1533.3,268.5 L1533.7,266.5 L1533.5,264.5 L1534.0,262.5 L1535.1,260.7 L1534.9,258.6 L1534.9,256.6 L1535.2,254.6 L1536.3,252.7 L1536.6,250.8 L1536.5,248.7 L1536.4,246.7 L1537.2,244.8 L1537.8,242.8 L1537.4,240.8 L1537.7,238.8 L1538.2,236.9 L1538.4,234.9 L1538.5,232.9 L1538.6,230.9 L1538.6,228.8 L1538.7,226.8 L1539.1,224.8 L1539.4,222.9 L1540.4,221.0 L1540.8,219.0 L1540.3,216.9 L1541.1,215.0 L1541.9,213.2 L1542.2,211.2 L1542.2,209.1 L1542.6,207.2 L1543.2,205.3 L1542.7,203.1 L1543.4,201.2 L1544.6,199.4 L1545.2,197.5 L1546.1,195.7 L1546.8,193.8 L1547.1,191.8 L1547.5,189.9 L1548.4,188.0 L1549.6,186.3 L1549.7,184.2 L1549.2,182.1 L1549.4,180.1 L1549.9,178.1 L1549.7,176.1 L1550.0,174.1 L1550.4,172.1 L1550.1,170.1 L1550.7,168.1 L1551.9,166.3 L1552.2,164.3 L1551.5,162.2 L1551.4,160.2 L1552.2,158.3 L1552.8,156.3 L1552.7,154.3 L1553.8,152.4 L1554.7,154.3 L1555.4,156.3 L1557.5,157.5 L1559.4,156.2 L1561.0,155.0 L1563.0,154.4 L1564.6,153.3 L1566.2,152.1 L1568.2,151.6 L1570.1,151.2 L1572.1,150.7 L1573.9,150.0 L1576.0,149.6 L1577.8,148.7 L1579.4,148.2 L1580.9,147.8 L1582.7,148.4 L1584.4,149.5 L1586.2,150.4 L1587.2,152.4 L1588.8,153.9 L1590.7,154.5 L1592.2,155.5 L1593.4,156.9 L1594.6,158.4 L1595.9,160.1 L1596.1,162.2 L1595.1,164.3 L1595.5,166.3 L1596.4,168.2 L1596.6,170.2 L1597.1,172.2 L1596.7,174.2 L1597.0,176.2 L1597.5,178.0 L1598.5,178.2 L1599.3,176.4 L1600.2,174.6 L1600.8,172.6 L1601.5,170.7 L1602.5,168.9 L1603.0,167.0 L1603.1,165.0 L1603.0,162.9 L1603.2,160.9 L1602.9,158.8 L1602.9,156.8 L1604.1,154.9 L1605.1,153.3 L1606.6,152.6 L1608.5,152.1 L1610.2,151.2 L1610.9,149.4 L1611.3,147.5 L1611.8,145.6 L1612.0,143.6 L1612.1,141.6 L1612.8,139.7 L1613.3,137.8 L1613.6,135.8 L1614.3,133.9 L1615.3,132.3 L1616.1,130.5 L1617.5,128.7 L1619.4,127.8 L1621.7,128.4 L1623.7,128.4 L1625.5,127.6 L1627.3,128.1 L1627.9,130.0 L1628.7,131.9 L1630.4,133.0 L1632.2,132.9 L1634.2,132.6 L1636.0,132.8 L1636.9,134.1 L1637.5,135.9 L1637.4,137.9 L1637.2,139.9 L1637.8,141.9 L1637.9,143.9 L1638.9,145.8 L1640.3,147.4 L1641.1,148.8 L1642.9,149.1 L1644.8,149.7 L1646.5,151.0 L1647.6,152.7 L1648.5,154.5 L1649.0,156.5 L1649.7,158.4 L1650.6,160.1 L1651.8,161.8 L1653.4,163.1 L1654.1,165.0 L1654.6,167.0 L1655.5,168.8 L1656.4,170.6 L1658.0,172.0 L1658.3,174.1 L1658.9,176.0 L1660.2,177.6 L1661.4,179.3 L1662.7,180.9 L1662.8,183.1 L1663.3,185.0 L1664.4,186.7 L1665.8,188.4 L1666.2,190.3 L1666.4,192.4 L1667.1,194.3 L1667.7,196.2 L1667.8,198.2 L1668.2,200.2 L1668.8,202.1 L1669.7,203.9 L1670.5,205.8 L1670.6,207.8 L1670.6,209.9 L1671.6,211.7 L1672.4,213.6 L1672.3,215.7 L1672.8,217.6 L1674.1,219.3 L1674.7,221.2 L1675.0,223.2 L1675.9,225.0 L1677.2,226.7 L1677.7,228.7 L1678.4,230.5 L1678.9,232.5 L1679.2,234.5 L1679.9,236.3 L1680.7,238.2 L1681.1,240.2 L1681.8,242.1 L1681.8,244.2 L1682.4,246.1 L1683.1,247.9 L1684.0,249.8 L1684.9,251.6 L1684.9,253.6 L1685.4,255.6 L1685.8,257.6 L1685.3,259.8 L1686.3,261.6 L1687.8,263.2 L1688.0,265.3 L1688.4,267.2 L1688.9,269.2 L1690.2,270.9 L1690.9,272.7 L1690.9,274.8 L1691.6,276.7 L1692.0,278.7 L1692.9,280.5 L1693.3,282.4 L1694.2,284.3 L1695.5,286.0 L1696.0,287.9 L1696.6,289.8 L1696.9,291.8 L1697.0,293.9 L1697.1,295.9 L1698.2,297.7 L1699.1,299.5 L1699.3,301.5 L1700.0,303.4 L1701.2,305.1 L1702.2,306.9 L1702.5,308.9 L1703.1,310.8 L1703.6,312.8 L1704.2,314.7 L1705.0,316.5 L1705.9,318.3 L1707.0,320.0 L1707.6,321.9 L1708.1,323.9 L1708.8,325.8 L1710.0,327.4 L1711.3,329.0 L1711.5,331.1 L1711.6,333.3 L1712.9,334.9 L1713.4,336.8 L1714.2,338.7 L1716.0,340.1 L1716.7,342.0 L1717.0,344.0 L1717.5,346.0 L1718.4,347.8 L1719.1,349.6 L1719.8,351.5 L1720.7,353.3 L1722.7,354.6 L1723.8,356.3 L1724.0,358.4 L1724.7,360.3 L1725.6,362.0 L1727.0,363.6 L1728.6,365.1 L1728.7,367.2 L1728.6,369.5 L1730.3,370.9 L1731.6,372.5 L1731.7,374.7 L1731.8,376.8 L1732.5,378.7 L1733.5,380.4 L1735.0,381.9 L1736.5,383.5 L1736.4,385.7 L1736.4,387.9 L1737.4,389.7 L1738.4,391.4 L1739.1,393.3 L1739.5,395.3 L1740.8,396.9 L1742.6,398.2 L1743.4,400.1 L1744.0,402.0 L1745.0,403.8 L1746.0,405.5 L1746.7,407.4 L1747.5,409.2 L1748.5,411.0 L1749.2,412.8 L1750.2,414.5 L1752.0,415.9 L1753.2,417.5 L1753.7,419.5 L1753.9,421.6 L1754.1,423.8 L1755.2,425.6 L1756.7,427.0 L1758.3,428.3 L1759.3,430.1 L1760.4,431.7 L1761.4,433.5 L1762.2,435.4 L1762.4,437.5 L1763.6,439.2 L1765.0,440.7 L1766.3,442.2 L1766.9,444.2 L1767.5,446.1 L1769.1,447.6 L1771.0,448.8 L1771.8,450.7 L1771.9,452.9 L1772.7,454.7 L1774.0,456.3 L1774.8,458.1 L1775.0,460.2 L1775.4,462.2 L1776.5,463.9 L1777.6,465.7 L1777.9,467.7 L1778.7,469.6 L1779.5,471.4 L1780.5,473.1 L1781.6,474.8 L1782.4,476.6 L1783.1,478.5 L1783.8,480.4 L1784.4,482.4 L1785.0,484.3 L1786.2,485.9 L1787.3,487.6 L1788.5,489.3 L1789.0,491.2 L1790.0,493.0 L1792.0,494.2 L1792.8,496.0 L1792.1,498.6 L1792.7,500.5 L1793.9,502.2 L1795.3,503.7 L1795.9,505.7 L1796.2,507.8 L1797.0,509.6 L1798.5,511.1 L1799.6,512.8 L1800.4,514.6 L1801.7,516.2 L1802.8,517.9 L1803.5,519.7 L1804.6,521.4 L1805.6,523.2 L1806.1,525.2 L1807.0,526.9 L1808.4,528.5 L1809.7,530.1 L1809.8,532.2 L1810.6,534.1 L1811.3,536.0 L1811.6,538.0 L1812.3,540.0 L1813.2,541.7 L1814.5,543.3 L1816.2,544.7 L1817.7,546.2 L1818.4,548.1 L1819.0,550.0 L1820.1,551.7 L1821.8,553.0 L1822.8,554.7 L1823.2,556.8 L1823.8,558.8 L1824.9,560.4 L1827.0,561.5 L1827.7,563.4 L1828.0,565.6 L1829.1,567.2 L1830.4,568.8 L1831.0,570.8 L1832.2,572.4 L1833.2,574.1 L1834.2,575.9 L1835.5,577.4 L1836.7,579.1 L1837.2,581.1 L1837.6,583.1 L1838.4,584.9 L1839.3,586.7 L1840.3,588.5 L1840.7,590.4 L1840.8,592.5 L1841.4,594.4 L1842.1,596.3 L1843.5,597.9 L1843.7,600.0 L1844.8,601.7 L1846.0,603.4 L1846.6,605.3 L1846.9,607.3 L1848.0,609.0 L1849.7,610.5 L1850.2,612.4 L1850.3,614.6 L1851.1,616.4 L1852.1,618.2 L1853.5,619.7 L1854.8,621.2 L1855.7,623.0 L1856.9,624.6 L1858.2,626.2 L1859.3,627.8 L1860.7,629.3 L1862.3,630.5 L1864.2,631.5 L1865.7,632.9 L1866.3,635.0 L1866.9,637.0 L1868.5,638.3 L1870.3,639.5 L1871.2,641.3 L1872.1,643.1 L1873.1,644.9 L1874.3,646.5 L1875.8,647.9 L1877.3,649.2 L1878.5,650.8 L1879.8,652.3 L1880.9,654.0 L1882.1,655.6 L1883.5,657.0 L1884.8,658.6 L1886.4,659.8 L1888.0,661.0 L1889.1,662.7 L1890.0,664.7 L1891.5,666.0 L1893.4,666.9 L1894.6,668.6 L1895.8,670.2 L1897.7,671.2 L1899.4,672.3 L1900.5,674.0 L1901.2,676.1 L1902.8,677.3 L1904.3,678.7 L1905.2,680.5 L1906.3,682.2 L1908.2,683.2 L1909.9,684.4 L1911.1,686.1 L1912.3,687.6 L1913.4,689.4 L1914.5,691.0 L1915.6,692.7 L1916.9,694.2 L1917.7,696.2 L1919.7,697.0 L1921.1,698.5 L1922.0,700.4 L1923.2,702.0 L1925.0,703.1 L1926.7,704.2 L1928.5,705.2 L1930.3,706.3 L1931.3,708.1 L1932.0,710.2 L1933.9,711.1 L1935.2,712.6 L1936.7,714.0 L1938.0,715.6 L1939.0,717.4 L1940.3,718.9 L1941.4,720.5 L1942.7,722.1 L1944.0,723.6 L1945.6,724.9 L1946.9,726.4 L1948.2,727.9 L1949.4,729.5 L1950.5,731.2 L1951.7,732.8 L1953.1,734.2 L1954.6,735.5 L1956.3,736.7 L1957.8,738.0 L1959.0,739.6 L1960.1,741.3 L1961.6,742.6 L1963.0,744.1 L1964.3,745.7 L1966.0,746.7 L1968.1,747.3 L1969.8,748.3 L1971.1,749.9 L1972.3,751.6 L1973.9,752.8 L1974.9,754.8 L1976.6,755.9 L1978.6,756.5 L1980.6,757.2 L1982.3,758.2 L1983.9,759.5 L1985.3,761.0 L1986.5,762.7 L1988.5,763.4 L1990.5,764.0 L1992.4,764.9 L1993.7,766.4 L1995.2,767.7 L1996.6,769.2 L1997.6,771.2 L1999.4,772.1 L2001.2,773.1 L2002.6,774.6 L2004.1,775.9 L2005.9,776.8 L2007.8,777.6 L2009.5,778.7 L2011.2,779.7 L2012.7,781.1 L2013.8,782.9 L2015.4,784.1 L2017.2,785.0 L2019.0,785.8 L2020.8,786.7 L2022.0,788.5 L2023.8,789.5 L2026.0,789.6 L2027.8,790.4 L2029.3,791.9 L2030.9,793.1 L2032.9,793.7 L2034.7,794.6 L2036.3,795.7 L2038.2,796.4 L2040.4,796.7 L2042.0,797.9 L2043.5,799.4 L2045.2,800.3 L2046.9,801.3 L2048.2,803.0 L2050.1,803.9 L2052.0,804.6 L2053.7,805.6 L2055.3,806.8 L2057.0,807.8 L2058.8,808.8 L2060.4,810.0 L2062.0,811.2 L2063.8,812.2 L2065.8,812.6 L2067.6,813.6 L2069.3,814.6 L2071.1,815.5 L2072.8,816.6 L2074.6,817.3 L2076.5,818.0 L2078.2,819.0 L2080.0,820.0 L2081.6,821.2 L2083.3,822.1 L2085.2,822.9 L2086.6,824.4 L2088.3,825.4 L2090.5,825.9 L2092.2,827.0 L2093.2,828.8 L2094.5,830.4 L2096.0,831.7 L2097.9,832.5 L2099.5,833.3 L2101.3,833.3 L2103.2,832.7 L2105.1,832.0 L2106.8,831.3 L2108.4,831.1 L2110.3,831.3 L2111.8,832.6 L2113.2,834.0 L2115.1,834.7 L2117.0,835.4 L2118.8,836.2 L2120.6,837.0 L2122.6,837.6 L2124.6,837.9 L2126.3,839.1 L2127.6,840.8 L2129.0,842.1 L2130.3,843.6 L2132.4,844.3 L2134.5,845.0 L2135.3,847.1 L2136.0,849.1 L2137.7,850.3 L2139.4,851.5 L2141.5,851.2 L2143.3,850.3 L2144.9,849.0 L2147.0,848.7 L2148.8,849.7 L2150.5,850.8 L2152.3,851.8 L2154.4,851.5 L2156.1,851.7 L2158.1,851.8 L2159.9,850.6 L2162.0,850.9 L2164.0,851.6 L2166.1,852.7 L2166.9,854.6 L2167.3,856.7 L2168.6,858.3 L2170.4,859.1 L2172.5,859.2 L2174.5,859.2 L2176.1,860.7 L2177.9,861.7 L2179.9,862.1 L2181.7,863.0 L2183.7,863.4 L2185.7,863.3 L2187.6,862.9 L2188.9,862.3 L2190.3,861.3 L2192.0,860.0 L2193.2,858.4 L2194.5,857.5 L2195.1,857.4 L2196.6,858.1 L2198.0,859.5 L2199.7,860.9 L2201.9,860.7 L2203.2,858.9 L2205.2,858.3 L2206.9,858.9 L2208.2,859.2 L2210.0,860.4 L2210.4,862.4 L2211.0,864.3 L2212.1,866.0 L2213.2,867.6 L2214.4,869.0 L2216.0,870.1 L2217.4,871.4 L2219.1,872.2 L2221.0,872.7 L2222.9,872.9 L2224.7,873.9 L2226.5,875.0 L2228.5,875.2 L2230.4,875.8 L2232.4,876.2 L2234.5,875.9 L2236.5,875.7 L2238.5,875.9 L2240.3,877.1 L2242.2,878.1 L2244.2,878.3 L2246.2,878.5 L2247.9,879.9 L2249.8,880.6 L2252.0,880.1 L2254.0,880.0 L2255.9,880.4 L2258.0,881.0 L2259.9,880.3 L2261.9,880.2 L2263.9,879.9 L2265.8,879.8 L2267.6,880.4 L2269.5,880.6 L2271.4,881.3 L2273.5,881.6 L2275.3,882.4 L2276.9,883.6 L2278.8,884.5 L2280.8,883.8 L2282.2,882.2 L2283.3,880.5 L2284.2,878.7 L2286.0,877.6 L2287.8,876.2 L2288.2,874.2 L2288.2,872.0 L2290.1,870.7 L2291.9,872.1 L2292.9,874.0 L2294.1,875.7 L2295.2,877.5 L2294.6,879.6 L2294.8,881.6 L2295.6,883.5 L2296.3,885.4 L2298.1,886.4 L2300.2,886.0 L2302.2,886.0 L2304.3,886.4 L2306.2,886.3 L2308.2,885.3 L2310.2,884.7 L2312.2,884.5 L2314.2,885.1 L2316.0,886.3 L2317.8,887.1 L2319.5,888.2 L2320.8,889.8 L2322.4,891.0 L2324.1,890.9"/><path stroke-width="5.8" d="M1351.0,922.0 L1353.0,921.6 L1354.9,921.0 L1356.9,920.9 L1358.9,920.8 L1360.9,920.8 L1362.9,920.7 L1364.8,920.0 L1367.0,919.3 L1368.9,920.4 L1370.6,921.4 L1372.5,921.4 L1374.3,920.7 L1376.3,921.0 L1378.5,921.6 L1380.3,921.0 L1382.3,920.3 L1384.4,919.8 L1386.3,921.0 L1388.4,921.7 L1390.4,921.2 L1392.2,920.2 L1394.0,919.1 L1396.0,918.6 L1398.0,919.4 L1400.0,919.7 L1401.8,920.4 L1403.7,921.0 L1405.9,920.9 L1407.7,921.7 L1409.4,923.0 L1411.3,924.0 L1413.2,924.5 L1415.3,924.3 L1417.3,923.8 L1419.3,924.1 L1421.3,924.0 L1423.3,923.5 L1425.3,923.9 L1427.4,924.5 L1429.4,924.0 L1431.3,923.2 L1433.3,922.8 L1435.3,923.2 L1437.2,922.3 L1439.1,921.4 L1441.1,921.1 L1443.1,920.9 L1445.2,921.1 L1447.1,920.6 L1448.9,919.6 L1450.9,919.1 L1452.5,917.9 L1454.3,916.9 L1456.2,916.3 L1458.0,915.4 L1459.8,914.5 L1461.7,913.9 L1463.6,913.3 L1465.4,912.3 L1466.9,910.9 L1468.6,909.8 L1470.3,908.6 L1472.0,907.6 L1473.8,907.0 L1475.8,906.6 L1477.4,905.4 L1478.7,904.0 L1480.3,902.9 L1481.6,901.5 L1482.9,900.0 L1484.8,899.1 L1486.8,898.1 L1487.9,896.4 L1489.2,894.8 L1490.1,893.1 L1491.2,891.3 L1492.1,889.6 L1492.9,887.7 L1493.4,885.7 L1494.4,884.0 L1495.8,882.4 L1496.7,880.7 L1497.7,879.0 L1498.4,877.0 L1499.3,875.3 L1500.4,873.6 L1500.6,871.5 L1500.9,869.4 L1502.4,867.9 L1503.3,866.1 L1503.6,864.1 L1504.1,862.1 L1505.2,860.4 L1506.1,858.6 L1506.4,856.6 L1506.7,854.6 L1507.8,852.8 L1509.2,851.2 L1509.5,849.2 L1509.7,847.2 L1510.7,845.4 L1511.3,843.5 L1511.7,841.5 L1512.7,839.7 L1513.8,838.0 L1514.0,835.9 L1514.0,833.9 L1514.8,832.0 L1515.5,830.1 L1516.2,828.2 L1517.0,826.4 L1517.9,824.6 L1518.4,822.6 L1518.3,820.5 L1518.6,818.5 L1519.6,816.7 L1520.3,814.9 L1520.8,812.9 L1520.9,810.9 L1521.4,808.9 L1522.5,807.2 L1523.4,805.3 L1523.6,803.3 L1524.3,801.5 L1525.4,799.7 L1525.5,797.6 L1526.3,795.8 L1526.5,793.8 L1527.1,791.8 L1528.0,790.0 L1528.5,788.1 L1528.8,786.1 L1528.8,784.0 L1528.7,781.9 L1529.0,779.9 L1529.5,778.0 L1531.0,776.3 L1531.4,774.4 L1531.8,772.4 L1533.0,770.6 L1533.5,768.7 L1534.1,766.8 L1535.2,765.0 L1535.5,763.0 L1535.2,760.9 L1535.4,758.9 L1536.4,757.1 L1537.0,755.1 L1536.7,753.0 L1536.9,751.0 L1538.2,749.3 L1538.9,747.4 L1539.7,745.5 L1539.8,743.5 L1540.2,741.5 L1540.2,739.5 L1540.7,737.5 L1541.4,735.6 L1542.2,733.8 L1542.3,731.8 L1542.3,729.7 L1542.6,727.7 L1543.1,725.8 L1543.9,723.9 L1544.6,722.0 L1544.2,719.9 L1544.7,717.9 L1546.1,716.2 L1547.4,714.4 L1548.1,712.5 L1547.3,710.3 L1546.7,708.1 L1547.1,706.2 L1548.0,704.3 L1549.0,702.5 L1549.4,700.5 L1549.4,698.5 L1549.9,696.6 L1550.1,694.5 L1550.4,692.6 L1551.7,690.8 L1552.2,688.9 L1552.3,686.8 L1553.5,685.1 L1554.1,683.2 L1553.5,681.0 L1552.9,678.8 L1554.3,677.0 L1555.6,675.3 L1556.1,673.4 L1556.1,671.3 L1556.5,669.3 L1557.7,667.6 L1558.7,665.7 L1558.7,663.7 L1558.4,661.6 L1558.8,659.6 L1559.5,657.7 L1560.3,655.9 L1561.0,654.0 L1561.0,651.9 L1561.4,649.9 L1562.2,648.1 L1562.1,646.0 L1562.4,643.9 L1563.5,642.2 L1564.1,640.3 L1564.8,638.4 L1565.7,636.6 L1566.7,634.8 L1567.7,633.1 L1568.3,631.1 L1568.8,629.2 L1569.3,627.3 L1570.0,625.4 L1570.9,623.6 L1571.1,621.5 L1571.6,619.6 L1571.5,617.5 L1571.3,615.4 L1572.2,613.5 L1573.3,611.8 L1574.0,609.9 L1574.2,607.8 L1574.9,606.0 L1575.3,604.0 L1576.7,602.4 L1577.4,600.5 L1577.9,598.5 L1578.7,596.7 L1579.2,594.8 L1579.9,592.9 L1580.8,591.1 L1581.2,589.1 L1582.2,587.4 L1582.9,585.5 L1583.0,583.4 L1583.3,581.4 L1584.1,579.6 L1585.1,577.8 L1585.9,575.9 L1586.3,574.0 L1587.3,572.2 L1587.8,570.3 L1588.7,568.4 L1589.2,566.5 L1590.0,564.6 L1591.1,563.0 L1592.4,561.4 L1592.6,559.2 L1593.2,557.2 L1595.0,556.0 L1595.9,554.1 L1596.7,552.3 L1598.3,551.0 L1599.6,549.4 L1601.0,547.9 L1602.2,546.3 L1602.7,544.3 L1603.5,542.4 L1603.7,540.3 L1604.6,538.5 L1605.9,536.9 L1606.4,535.0 L1607.2,533.1 L1607.8,531.3 L1608.2,529.3 L1609.5,527.6 L1610.4,525.8 L1610.9,523.9 L1611.0,521.8 L1611.5,519.9 L1612.1,518.0 L1612.5,516.0 L1613.6,514.3 L1614.1,512.3 L1615.4,510.6 L1616.2,508.8 L1616.6,506.8 L1616.8,504.8 L1617.3,502.9 L1617.6,500.9 L1618.5,499.1 L1619.1,497.2 L1619.7,495.3 L1621.3,493.8 L1622.3,492.1 L1622.9,490.2 L1624.2,488.7 L1624.9,486.8 L1625.5,484.8 L1626.2,482.9 L1627.5,481.4 L1629.0,479.9 L1629.1,477.6 L1629.3,475.4 L1631.0,474.1 L1633.0,473.0 L1634.5,471.6 L1635.6,470.0 L1636.5,468.2 L1637.5,466.5 L1638.8,465.0 L1640.4,463.8 L1642.0,462.6 L1643.5,461.3 L1644.9,459.9 L1646.4,458.5 L1647.9,457.2 L1649.6,456.1 L1651.2,454.8 L1652.3,453.1 L1653.3,451.2 L1655.2,450.4 L1657.2,450.0 L1659.0,449.1 L1661.0,449.3 L1662.9,450.1 L1665.0,450.2 L1667.0,449.9 L1668.9,449.4 L1670.9,449.0 L1672.7,448.3 L1674.6,447.5 L1676.7,447.5 L1678.1,449.2 L1680.0,450.0 L1681.9,450.4 L1683.9,450.6 L1685.9,451.2 L1687.4,452.7 L1689.3,453.6 L1691.0,454.6 L1692.4,456.1 L1694.0,457.3 L1695.6,458.5 L1697.6,459.1 L1699.1,460.4 L1700.3,462.2 L1702.2,463.0 L1703.9,464.0 L1705.7,465.0 L1707.4,466.1 L1708.9,467.4 L1710.2,469.0 L1711.6,470.4 L1713.0,471.8 L1714.2,473.4 L1715.6,474.9 L1717.2,476.0 L1718.1,477.9 L1719.3,479.5 L1721.5,480.3 L1723.0,481.6 L1724.6,482.8 L1726.1,484.1 L1727.1,486.0 L1728.3,487.5 L1730.0,488.7 L1732.0,489.4 L1733.1,491.1 L1734.2,493.0 L1735.9,494.1 L1737.5,495.2 L1739.3,496.2 L1741.2,497.0 L1742.9,498.0 L1743.8,500.1 L1745.1,501.7 L1746.6,503.0 L1748.4,503.9 L1750.0,505.2 L1751.2,506.9 L1752.5,508.3 L1753.7,510.0 L1755.2,511.3 L1756.6,512.7 L1757.9,514.3 L1759.9,515.2 L1761.3,516.5 L1762.6,518.1 L1764.0,519.5 L1765.1,521.2 L1766.4,522.7 L1768.0,524.0 L1769.6,525.2 L1771.5,526.1 L1773.1,527.3 L1774.2,529.0 L1775.2,530.9 L1776.8,532.2 L1778.5,533.2 L1779.9,534.7 L1781.3,536.1 L1782.9,537.3 L1784.6,538.4 L1785.9,540.0 L1787.6,541.1 L1789.1,542.4 L1790.4,543.9 L1791.9,545.2 L1793.3,546.7 L1794.5,548.3 L1795.8,549.8 L1797.7,550.8 L1799.4,552.0 L1800.6,553.6 L1801.4,555.5 L1803.1,556.8 L1804.3,558.4 L1805.1,560.3 L1806.2,561.9 L1807.2,563.7 L1808.1,565.5 L1809.1,567.2 L1810.6,568.6 L1811.4,570.5 L1812.4,572.2 L1813.7,573.8 L1814.8,575.5 L1816.0,577.0 L1817.6,578.4 L1819.1,579.8 L1819.5,581.9 L1820.0,584.0 L1821.6,585.3 L1823.0,586.7 L1825.0,587.8 L1826.4,589.1 L1827.3,591.0 L1828.8,592.3 L1830.2,593.7 L1831.1,595.6 L1832.5,597.1 L1834.0,598.4 L1835.2,600.1 L1836.7,601.4 L1838.8,601.9 L1840.7,602.9 L1841.9,604.5 L1843.1,606.1 L1844.0,607.9 L1845.1,609.6 L1845.9,611.4 L1846.8,613.2 L1848.0,614.8 L1848.4,616.8 L1849.6,618.5 L1850.9,620.0 L1851.4,622.1 L1852.6,623.7 L1854.3,624.9 L1855.9,626.2 L1856.8,628.1 L1857.3,630.2 L1858.7,631.7 L1860.9,632.4 L1862.4,633.8 L1863.2,635.7 L1864.4,637.3 L1865.6,638.9 L1866.5,640.7 L1868.2,642.0 L1869.5,643.5 L1869.7,645.8 L1870.5,647.7 L1871.9,649.2 L1873.8,650.3 L1875.5,651.4 L1876.5,653.2 L1877.8,654.7 L1879.0,656.3 L1880.1,658.0 L1881.6,659.4 L1883.1,660.7 L1884.2,662.5 L1885.5,663.9 L1887.4,664.9 L1888.9,666.3 L1890.4,667.6 L1892.0,668.8 L1893.2,670.4 L1894.4,672.1 L1895.2,674.0 L1896.5,675.5 L1898.3,676.7 L1899.0,678.7 L1899.8,680.7 L1901.8,681.5 L1903.8,682.4 L1904.6,684.4 L1906.0,685.8 L1907.7,687.0 L1909.3,688.3 L1910.3,690.0 L1911.2,691.9 L1912.3,693.6 L1914.0,694.8 L1915.7,695.9 L1917.1,697.4 L1918.3,699.0 L1919.4,700.7 L1920.4,702.4 L1921.8,703.9 L1923.6,705.0 L1925.0,706.4 L1926.0,708.2 L1927.3,709.7 L1928.3,711.5 L1929.2,713.4 L1930.8,714.6 L1932.3,716.0 L1934.1,717.0 L1936.0,718.0 L1937.7,719.1 L1939.1,720.6 L1940.5,722.1 L1941.8,723.5 L1943.2,725.0 L1944.2,726.8 L1944.9,728.8 L1946.0,730.5 L1947.6,731.7 L1949.0,733.1 L1949.9,735.0 L1951.1,736.6 L1952.6,738.0 L1954.0,739.4 L1955.3,741.0 L1956.5,742.6 L1958.2,743.7 L1959.6,745.1 L1961.6,745.9 L1963.4,746.8 L1965.2,747.8 L1966.6,749.1 L1967.8,750.8 L1969.2,752.2 L1970.5,753.8 L1971.7,755.6 L1973.2,757.0 L1974.6,758.4 L1976.5,759.3 L1978.0,760.6 L1980.0,761.2 L1982.5,761.2 L1983.8,762.8 L1984.9,764.6 L1986.3,766.1 L1987.8,767.5 L1989.5,768.5 L1991.4,769.4 L1992.9,770.7 L1994.3,772.1 L1996.1,773.0 L1998.1,773.8 L1999.7,775.0 L2001.2,776.3 L2002.4,778.0 L2003.5,779.8 L2005.3,780.8 L2007.1,781.7 L2008.3,783.4 L2010.0,784.5 L2011.6,785.7 L2013.2,786.9 L2014.7,788.2 L2016.6,789.1 L2018.5,789.7 L2020.2,790.8 L2022.0,791.7 L2023.9,792.3 L2026.2,792.2 L2028.0,793.1 L2029.4,794.7 L2031.1,795.8 L2032.8,796.9 L2034.6,797.9 L2036.4,798.6 L2038.5,799.1 L2040.4,799.9 L2041.7,801.5 L2043.1,803.1 L2044.5,804.6 L2046.1,805.8 L2047.8,806.9 L2049.9,807.3 L2051.8,808.0 L2053.6,808.9 L2055.3,810.0 L2057.0,811.0 L2058.8,811.9 L2060.5,813.0 L2062.1,814.3 L2064.1,814.6 L2066.0,815.3 L2067.7,816.5 L2069.4,817.4 L2071.1,818.5 L2072.9,819.3 L2074.6,820.5 L2076.4,821.3 L2078.6,821.5 L2080.4,822.4 L2081.7,824.1 L2083.5,825.0 L2085.2,826.0 L2086.6,827.5 L2088.0,829.0 L2089.5,830.2 L2091.1,831.4 L2092.4,832.9 L2093.9,834.4 L2095.4,835.8 L2097.3,836.9 L2099.6,836.4 L2101.4,835.5 L2103.1,834.4 L2104.9,833.6 L2106.6,833.6 L2108.3,833.8 L2110.0,834.8 L2111.7,836.0 L2113.3,837.1 L2114.8,838.7 L2116.6,839.5 L2118.7,839.6 L2120.7,840.0 L2122.7,840.3 L2124.6,841.1 L2126.4,842.1 L2128.0,843.4 L2129.2,845.1 L2130.4,846.8 L2131.4,848.5 L2133.1,849.6 L2135.4,850.3 L2136.7,851.7 L2137.8,852.9 L2139.2,852.5 L2141.0,852.2 L2143.2,852.4 L2144.9,852.2 L2146.9,852.1 L2148.7,853.1 L2150.5,853.9 L2152.4,854.5 L2154.3,854.9 L2156.3,854.7 L2158.2,854.2 L2160.1,854.2 L2161.9,854.3 L2163.5,855.4 L2164.7,857.0 L2165.8,858.7 L2167.1,860.1 L2168.8,860.8 L2170.5,861.8 L2172.4,862.3 L2174.1,863.8 L2176.0,864.5 L2178.0,864.5 L2180.0,864.8 L2182.0,865.0 L2183.8,866.3 L2185.8,867.1 L2188.1,866.6 L2189.4,864.7 L2189.9,862.6 L2190.6,860.7 L2191.8,859.0 L2193.6,859.1 L2195.4,859.8 L2197.1,860.9 L2198.3,862.3 L2199.8,862.5 L2201.4,861.7 L2203.4,861.1 L2205.2,860.5 L2207.1,860.8 L2208.4,862.5 L2209.1,864.4 L2209.9,866.3 L2210.8,868.0 L2211.9,869.6 L2212.9,871.1 L2214.1,872.4 L2215.3,874.1 L2216.8,875.5 L2218.9,875.8 L2220.7,876.8 L2222.6,877.3 L2224.7,876.8 L2226.6,877.3 L2228.5,878.2 L2230.6,878.2 L2232.4,879.3 L2234.2,880.5 L2236.2,880.5 L2238.2,880.8 L2240.3,880.7 L2242.4,880.3 L2244.3,880.8 L2246.1,882.1 L2248.0,882.9 L2249.9,883.3 L2252.0,883.3 L2254.1,882.6 L2256.0,883.2 L2258.3,884.1 L2260.0,882.7 L2262.0,882.2 L2263.9,882.5 L2266.1,881.2 L2268.4,881.1 L2269.9,882.9 L2271.4,884.4 L2272.9,885.8 L2274.8,886.6 L2276.9,886.8 L2278.7,885.9 L2280.4,884.9 L2282.5,884.1 L2284.4,883.1 L2285.9,881.5 L2286.3,879.2 L2286.6,877.1 L2286.6,874.9 L2288.1,873.9 L2289.6,874.9 L2291.3,876.1 L2292.0,878.0 L2292.5,879.9 L2292.9,881.8 L2294.0,883.6 L2294.6,885.4 L2295.0,887.1 L2296.3,888.4 L2298.3,888.9 L2300.3,888.5 L2302.3,888.3 L2304.3,888.1 L2306.3,888.3 L2308.3,888.7 L2310.3,887.8 L2312.3,887.5 L2314.3,888.2 L2316.2,888.9 L2317.8,890.3 L2319.4,891.4 L2321.4,892.0 L2323.0,892.6"/>
</g>
<g font-family="'Liberation Sans', Arial, Helvetica, sans-serif" font-weight="bold" font-size="74.0" fill="#262626">
<text transform="translate(108.0,999.2) scale(0.9635,1)">0.0</text>
<text transform="translate(108.1,828.6) scale(0.9638,1)">0.5</text>
<text transform="translate(106.3,316.8) scale(0.9763,1)">2.0</text>
<text transform="translate(107.5,146.2) scale(0.9653,1)">2.5</text>
<text y="659.1"><tspan x="103.7" font-family="NanumGothic, 'Liberation Sans', sans-serif" font-weight="800" font-size="69.4" textLength="52.7" lengthAdjust="spacingAndGlyphs">1</tspan><tspan x="146.8" textLength="60.5" lengthAdjust="spacingAndGlyphs">.0</tspan></text>
<text y="488.5"><tspan x="103.9" font-family="NanumGothic, 'Liberation Sans', sans-serif" font-weight="800" font-size="69.0" textLength="52.7" lengthAdjust="spacingAndGlyphs">1</tspan><tspan x="146.9" textLength="58.7" lengthAdjust="spacingAndGlyphs">.5</tspan></text>
<text transform="translate(177.5,1089.0) scale(0.9551,1)">3.6</text>
<text transform="translate(402.2,1089.0) scale(0.9551,1)">3.3</text>
<text transform="translate(626.9,1089.0) scale(0.9587,1)">3.0</text>
<text transform="translate(850.9,1089.0) scale(0.9697,1)">2.7</text>
<text transform="translate(1075.7,1089.0) scale(0.9409,1)">2.4</text>
<text transform="translate(1363.4,1091.3) scale(0.9527,1)">400</text>
<text transform="translate(1544.2,1091.3) scale(0.9527,1)">450</text>
<text transform="translate(1723.9,1091.3) scale(0.9616,1)">500</text>
<text transform="translate(1904.6,1091.3) scale(0.9616,1)">550</text>
<text transform="translate(2085.0,1091.3) scale(0.9646,1)">600</text>
<text transform="translate(2265.8,1091.3) scale(0.9646,1)">650</text>
<text transform="translate(1088.3,112.6) scale(0.8639,1)">(</text>
<text transform="translate(1110.1,112.6) scale(1.0286,1)">A</text>
<text transform="translate(1162.7,112.6) scale(0.8687,1)">)</text>
<text transform="translate(2220.7,115.0) scale(0.8253,1)">(</text>
<text transform="translate(2243.3,115.0) scale(0.9814,1)">B</text>
<text transform="translate(2296.6,115.0) scale(0.8494,1)">)</text>
<text transform="translate(284.8,136.3) scale(0.8639,1)">(</text>
<text transform="translate(307.8,136.3) scale(0.8765,1)">a</text>
<text transform="translate(348.7,136.3) scale(0.8639,1)">)</text>
<text transform="translate(285.7,468.8) scale(0.8253,1)">(</text>
<text transform="translate(308.2,468.8) scale(0.9955,1)">b</text>
<text transform="translate(353.7,468.8) scale(0.8446,1)">)</text>
<text transform="translate(1440.7,239.6) scale(0.8446,1)">(</text>
<text transform="translate(1463.2,239.6) scale(1.0062,1)">b</text>
<text transform="translate(1508.7,239.6) scale(0.8639,1)">)</text>
<text transform="translate(1589.5,616.9) scale(0.8253,1)">(</text>
<text transform="translate(1612.0,616.9) scale(0.8740,1)">a</text>
<text transform="translate(1653.2,616.9) scale(0.8687,1)">)</text>
<text transform="translate(1540.5,106.4) scale(0.9568,1)">448</text>
<text transform="translate(1597.4,430.1) scale(0.9618,1)">468</text>
<text transform="translate(520.8,1157.0) scale(0.9493,1)">Energy / eV</text>
<text transform="translate(1586.7,1163.7) scale(0.9572,1)">Wavelength / nm</text>
<text transform="translate(84.2,910.0) rotate(-90)" x="0" y="0" letter-spacing="-0.42">Kubelka - Munk / a.u.</text>
<text transform="translate(1302.2,769.6) rotate(-90)" x="0" y="0" letter-spacing="-0.39">Intensity / a.u.</text>
</g>
</g>
</svg>
</body></html>
